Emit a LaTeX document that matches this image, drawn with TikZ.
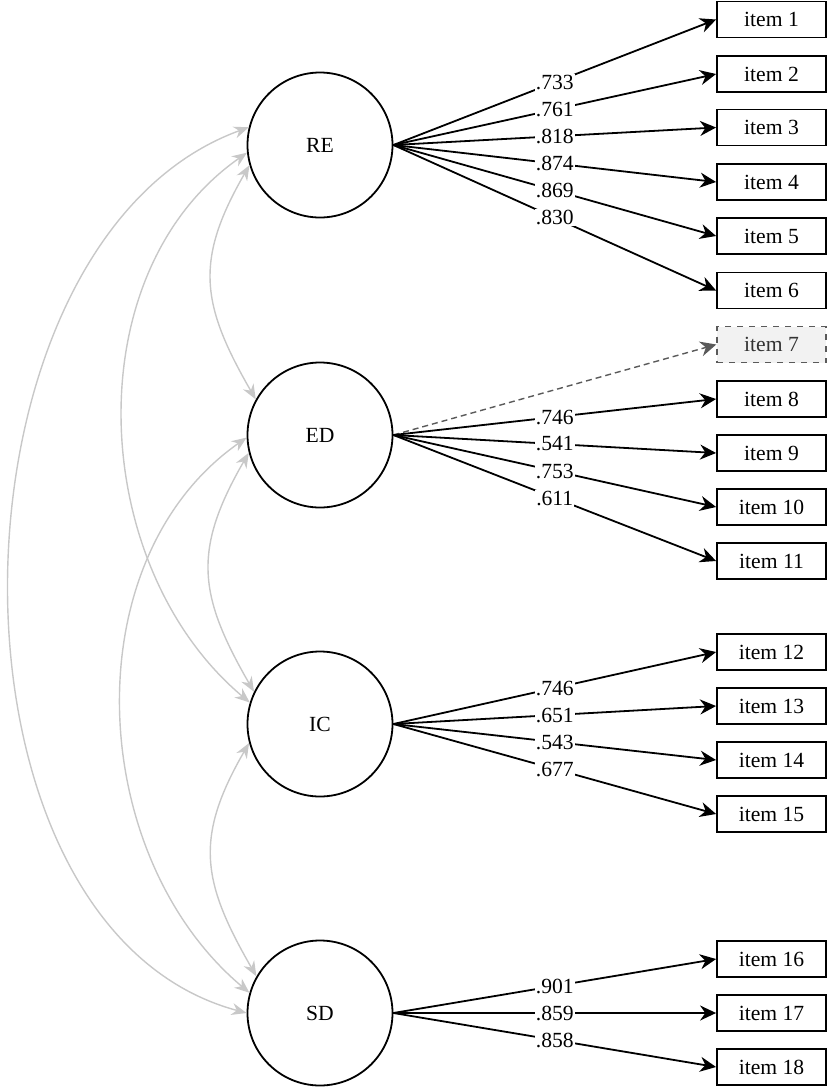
\documentclass[tikz,border=0pt]{standalone}
\usepackage{fontspec}
\setmainfont{Liberation Serif}
\usetikzlibrary{arrows.meta}
\definecolor{covgray}{RGB}{200,200,200}
\definecolor{dropgray}{RGB}{90,90,90}

\begin{document}
\begin{tikzpicture}[x=0.5pt,y=-0.5pt,
        every node/.style={font=\fontsize{10.8}{12}\selectfont},
        latent/.style={draw,circle,line width=0.9pt,minimum size=72.5pt,inner sep=0pt},
        item/.style={draw,rectangle,line width=0.9pt,minimum width=54.5pt,minimum height=18pt,inner sep=0pt},
        dropped/.style={item,dashed,draw=dropgray,fill=black!5,text=black!80,line width=0.7pt},
        load/.style={-{Stealth[length=8pt,width=7.5pt]},line width=0.9pt},
        coef/.style={fill=white,inner sep=0.6pt,pos=0.5},
        cov/.style={{Stealth[length=7.5pt,width=6pt]}-{Stealth[length=7.5pt,width=6pt]},draw=covgray,line width=0.7pt}
      ]
      \useasboundingbox (0,0) rectangle (829,1089);

      % the latent factors
      \foreach \f/\y in {RE/145,ED/435,IC/724,SD/1013}
        \node[latent] (\f) at (320,\y) {\f};

      % the items
      \foreach \i/\y in {1/19.5,2/74,3/127.5,4/182,5/236,6/290.5,8/399,9/453,10/507,11/561,
                         12/652,13/706,14/760,15/814,16/959,17/1013,18/1067}
        \node[item] (i\i) at (771.5,\y) {item \i};
      \node[dropped] (i7) at (771.5,344.5) {item 7};

      % the loadings
      \foreach \i/\c in {1/.733,2/.761,3/.818,4/.874,5/.869,6/.830}
        \draw[load] (RE.east) -- node[coef] {\c} (i\i.west);
      \draw[load,dashed,draw=dropgray,dash pattern=on 3pt off 2pt,line width=0.7pt] (ED.east) -- (i7.west);
      \foreach \i/\c in {8/.746,9/.541,10/.753,11/.611}
        \draw[load] (ED.east) -- node[coef] {\c} (i\i.west);
      \foreach \i/\c in {12/.746,13/.651,14/.543,15/.677}
        \draw[load] (IC.east) -- node[coef] {\c} (i\i.west);
      \foreach \i/\c in {16/.901,17/.859,18/.858}
        \draw[load] (SD.east) -- node[coef] {\c} (i\i.west);

      % the covariances
      \draw[cov] (RE.166) to[out=200,in=165,looseness=0.96] (SD.180);
      \draw[cov] (RE.186) to[out=215,in=140,looseness=0.98] (IC.163);
      \draw[cov] (ED.182) to[out=215,in=140,looseness=0.98] (SD.164);
      \draw[cov] (RE.196) to[out=240,in=120,looseness=1.2] (ED.151);
      \draw[cov] (ED.194) to[out=240,in=120,looseness=1.2] (IC.154);
      \draw[cov] (IC.195) to[out=240,in=120,looseness=1.2] (SD.150);
\end{tikzpicture}
\end{document}
